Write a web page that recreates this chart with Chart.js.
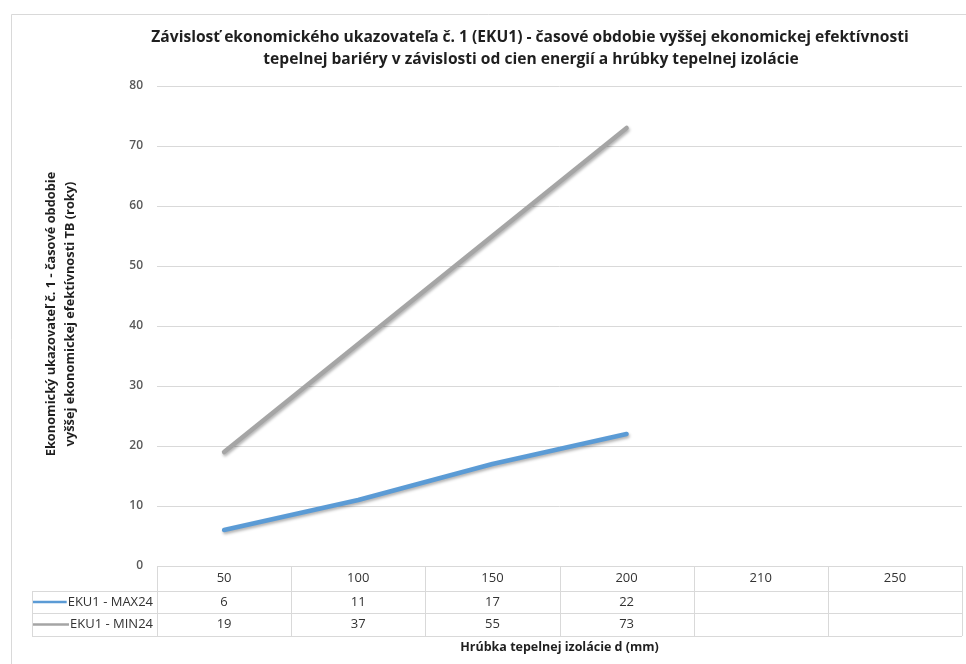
<!DOCTYPE html>
<html>
<head>
<meta charset="utf-8">
<script src="https://cdn.jsdelivr.net/npm/chart.js@4/dist/chart.umd.min.js"></script>
<style>
  html, body { margin: 0; padding: 0; background: #ffffff; }
  #wrap { width: 966px; height: 664px; position: relative; }
</style>
</head>
<body>
<div id="wrap"><canvas id="c" width="966" height="664"></canvas></div>
<script>
// Insulation thickness categories (mm)
const categories = ['50', '100', '150', '200', '210', '250'];
const seriesNames = ['EKU1 - MAX24', 'EKU1 - MIN24'];
// Period of higher economic efficiency (years)
const max24 = [6, 11, 17, 22, null, null];
const min24 = [19, 37, 55, 73, null, null];
const yMin = 0, yMax = 80, yStep = 10;

const titleLines = [
  'Závislosť ekonomického ukazovateľa č. 1 (EKU1) - časové obdobie vyššej ekonomickej efektívnosti',
  'tepelnej bariéry v závislosti od cien energií a hrúbky tepelnej izolácie'
];
const yTitleLines = [
  'Ekonomický ukazovateľ č. 1 - časové obdobie',
  'vyššej ekonomickej efektívnosti TB (roky)'
];
const xTitle = 'Hrúbka tepelnej izolácie d (mm)';

const seriesColors = ['#5b9bd5', '#a5a5a5'];
const FONT = '"Open Sans", "Noto Sans", sans-serif';
const TEXT = '#404040';
const RULE = '#d9d9d9';

// Soft drop shadow under the series lines
const lineShadow = {
  id: 'lineShadow',
  beforeDatasetDraw(chart) {
    const ctx = chart.ctx;
    ctx.save();
    ctx.shadowColor = 'rgba(0,0,0,0.30)';
    ctx.shadowBlur = 3;
    ctx.shadowOffsetX = 1;
    ctx.shadowOffsetY = 2;
  },
  afterDatasetDraw(chart) {
    chart.ctx.restore();
  }
};

// Frame, titles and the data table under the plot
const decor = {
  id: 'decor',
  beforeDraw(chart) {
    const ctx = chart.ctx;
    ctx.save();
    ctx.fillStyle = '#ffffff';
    ctx.fillRect(0, 0, chart.width, chart.height);
    ctx.strokeStyle = RULE;
    ctx.lineWidth = 1;
    ctx.beginPath();
    ctx.moveTo(11.5, chart.height);
    ctx.lineTo(11.5, 14.5);
    ctx.lineTo(chart.width, 14.5);
    ctx.stroke();
    ctx.restore();
  },
  afterDraw(chart) {
    const ctx = chart.ctx;
    const area = chart.chartArea;
    const xs = chart.scales.x;
    ctx.save();

    // Chart title
    ctx.fillStyle = '#1f1f1f';
    ctx.font = 'bold 15.6px ' + FONT;
    ctx.textAlign = 'center';
    ctx.textBaseline = 'middle';
    ctx.fillText(titleLines[0], 530, 38);
    ctx.fillText(titleLines[1], 531, 60);

    // Vertical axis title
    ctx.save();
    ctx.translate(0, 314);
    ctx.rotate(-Math.PI / 2);
    ctx.font = 'bold 12.8px ' + FONT;
    ctx.fillStyle = '#1f1f1f';
    ctx.fillText(yTitleLines[0], 0, 51);
    ctx.fillText(yTitleLines[1], 0, 70);
    ctx.restore();

    // Data table
    const n = categories.length;
    const colW = (area.right - area.left) / n;
    const tableLeft = 32;
    const rows = [area.bottom, 591, 613, 636];
    ctx.strokeStyle = RULE;
    ctx.lineWidth = 1;
    ctx.beginPath();
    ctx.moveTo(area.left, Math.round(rows[0]) + 0.5);
    ctx.lineTo(area.right, Math.round(rows[0]) + 0.5);
    for (let r = 1; r < rows.length; r++) {
      ctx.moveTo(tableLeft, rows[r] + 0.5);
      ctx.lineTo(area.right, rows[r] + 0.5);
    }
    for (let i = 0; i <= n; i++) {
      const bx = Math.round(area.left + i * colW) + 0.5;
      ctx.moveTo(bx, rows[0]);
      ctx.lineTo(bx, rows[3]);
    }
    ctx.moveTo(tableLeft + 0.5, rows[1]);
    ctx.lineTo(tableLeft + 0.5, rows[3]);
    ctx.stroke();

    ctx.font = '13px ' + FONT;
    ctx.fillStyle = '#333333';
    ctx.textAlign = 'center';
    const rowMid = [(rows[0] + rows[1]) / 2, (rows[1] + rows[2]) / 2, (rows[2] + rows[3]) / 2];
    categories.forEach((c, i) => {
      ctx.fillText(c, xs.getPixelForValue(i), rowMid[0]);
    });
    [max24, min24].forEach((arr, s) => {
      ctx.textAlign = 'center';
      arr.forEach((v, i) => {
        if (v !== null) ctx.fillText(String(v), xs.getPixelForValue(i), rowMid[s + 1]);
      });
      // legend key and series name
      ctx.textAlign = 'right';
      ctx.fillText(seriesNames[s], 153, rowMid[s + 1]);
      const keyEnd = 152 - ctx.measureText(seriesNames[s]).width;
      ctx.strokeStyle = seriesColors[s];
      ctx.lineWidth = 2.5;
      ctx.beginPath();
      ctx.moveTo(tableLeft + 1, rowMid[s + 1]);
      ctx.lineTo(keyEnd, rowMid[s + 1]);
      ctx.stroke();
    });

    // Horizontal axis title
    ctx.textAlign = 'center';
    ctx.font = 'bold 12.5px ' + FONT;
    ctx.fillStyle = '#1f1f1f';
    ctx.fillText(xTitle, (area.left + area.right) / 2, 647);

    ctx.restore();
  }
};

new Chart(document.getElementById('c'), {
  type: 'line',
  data: {
    labels: categories,
    datasets: [
      { label: seriesNames[0], data: max24, borderColor: seriesColors[0], backgroundColor: seriesColors[0] },
      { label: seriesNames[1], data: min24, borderColor: seriesColors[1], backgroundColor: seriesColors[1] }
    ]
  },
  options: {
    responsive: false,
    devicePixelRatio: 1,
    animation: false,
    layout: { padding: { top: 86, right: 4, bottom: 98, left: 0 } },
    elements: {
      line: { borderWidth: 4.5, borderCapStyle: 'round', borderJoinStyle: 'round', tension: 0 },
      point: { radius: 0, hoverRadius: 0 }
    },
    plugins: {
      legend: { display: false },
      title: { display: false },
      tooltip: { enabled: false }
    },
    scales: {
      x: { type: 'category', offset: true, display: false },
      y: {
        min: yMin, max: yMax,
        ticks: { stepSize: yStep, color: '#595959', padding: 14, font: { family: FONT, size: 12, weight: '600' } },
        grid: { color: RULE, lineWidth: 1, drawTicks: false },
        border: { display: false },
        afterFit(scale) { scale.width = 157; }
      }
    }
  },
  plugins: [lineShadow, decor]
});
</script>
</body>
</html>
